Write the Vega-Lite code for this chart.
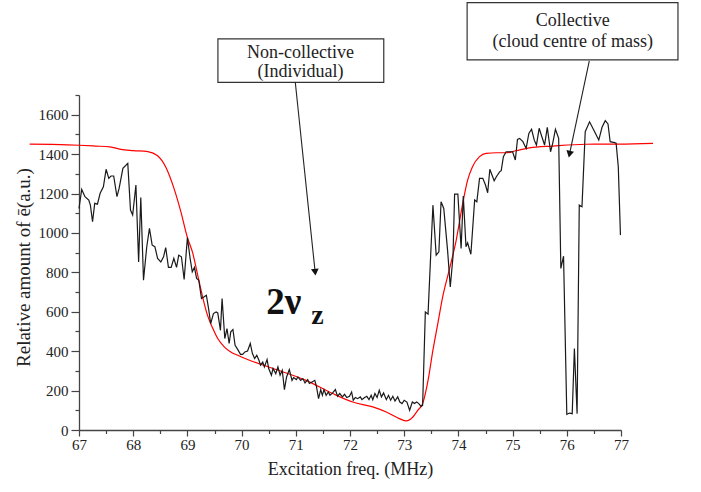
{
  "$schema": "https://vega.github.io/schema/vega-lite/v6.json",
  "width": 542,
  "height": 335,
  "autosize": "none",
  "padding": {"left": 79, "top": 95, "right": 80, "bottom": 62},
  "background": "white",
  "config": {
    "view": {"stroke": null},
    "font": "Liberation Serif",
    "axis": {
      "grid": false,
      "labelFlush": false,
      "domainColor": "#444444",
      "domainWidth": 1.3,
      "tickColor": "#444444",
      "tickWidth": 1.2,
      "labelColor": "#222222",
      "labelFont": "Liberation Serif",
      "labelFontSize": 15,
      "titleFont": "Liberation Serif",
      "titleFontSize": 18,
      "titleFontWeight": "normal",
      "titleColor": "#222222"
    }
  },
  "datasets": {
    "exp": [
      {"f": 67.00, "v": 1124}, {"f": 67.05, "v": 1221}, {"f": 67.11, "v": 1184}, {"f": 67.18, "v": 1167},
      {"f": 67.21, "v": 1141}, {"f": 67.25, "v": 1057}, {"f": 67.29, "v": 1150}, {"f": 67.34, "v": 1146},
      {"f": 67.39, "v": 1201}, {"f": 67.45, "v": 1234}, {"f": 67.50, "v": 1323}, {"f": 67.55, "v": 1277},
      {"f": 67.59, "v": 1289}, {"f": 67.64, "v": 1289}, {"f": 67.70, "v": 1184}, {"f": 67.74, "v": 1226},
      {"f": 67.81, "v": 1328}, {"f": 67.90, "v": 1353}, {"f": 67.95, "v": 1116}, {"f": 67.99, "v": 1091},
      {"f": 68.05, "v": 1243}, {"f": 68.10, "v": 853}, {"f": 68.14, "v": 1180}, {"f": 68.19, "v": 760},
      {"f": 68.25, "v": 930}, {"f": 68.30, "v": 1023}, {"f": 68.35, "v": 938}, {"f": 68.40, "v": 930},
      {"f": 68.45, "v": 871}, {"f": 68.51, "v": 853}, {"f": 68.56, "v": 879}, {"f": 68.60, "v": 926},
      {"f": 68.65, "v": 825}, {"f": 68.70, "v": 825}, {"f": 68.75, "v": 871}, {"f": 68.80, "v": 825},
      {"f": 68.84, "v": 887}, {"f": 68.89, "v": 879}, {"f": 68.94, "v": 764}, {"f": 69.00, "v": 977},
      {"f": 69.05, "v": 871}, {"f": 69.09, "v": 803}, {"f": 69.13, "v": 825}, {"f": 69.17, "v": 769},
      {"f": 69.21, "v": 760}, {"f": 69.26, "v": 667}, {"f": 69.31, "v": 676}, {"f": 69.35, "v": 684},
      {"f": 69.39, "v": 617}, {"f": 69.43, "v": 540}, {"f": 69.48, "v": 591}, {"f": 69.53, "v": 599},
      {"f": 69.56, "v": 594}, {"f": 69.61, "v": 506}, {"f": 69.64, "v": 667}, {"f": 69.69, "v": 464},
      {"f": 69.73, "v": 515}, {"f": 69.77, "v": 439}, {"f": 69.80, "v": 498}, {"f": 69.84, "v": 510},
      {"f": 69.88, "v": 430}, {"f": 69.93, "v": 408}, {"f": 69.98, "v": 384}, {"f": 70.02, "v": 384},
      {"f": 70.06, "v": 396}, {"f": 70.11, "v": 401}, {"f": 70.16, "v": 439}, {"f": 70.20, "v": 388},
      {"f": 70.24, "v": 363}, {"f": 70.28, "v": 379}, {"f": 70.32, "v": 354}, {"f": 70.35, "v": 329},
      {"f": 70.39, "v": 345}, {"f": 70.42, "v": 320}, {"f": 70.47, "v": 358}, {"f": 70.50, "v": 312},
      {"f": 70.55, "v": 278}, {"f": 70.58, "v": 312}, {"f": 70.63, "v": 286}, {"f": 70.67, "v": 320},
      {"f": 70.71, "v": 278}, {"f": 70.75, "v": 303}, {"f": 70.79, "v": 205}, {"f": 70.83, "v": 269},
      {"f": 70.88, "v": 307}, {"f": 70.93, "v": 252}, {"f": 70.96, "v": 266}, {"f": 71.01, "v": 256},
      {"f": 71.04, "v": 269}, {"f": 71.09, "v": 252}, {"f": 71.13, "v": 261}, {"f": 71.17, "v": 239},
      {"f": 71.22, "v": 256}, {"f": 71.25, "v": 236}, {"f": 71.30, "v": 244}, {"f": 71.35, "v": 252},
      {"f": 71.38, "v": 222}, {"f": 71.42, "v": 159}, {"f": 71.46, "v": 205}, {"f": 71.49, "v": 176},
      {"f": 71.52, "v": 205}, {"f": 71.56, "v": 176}, {"f": 71.60, "v": 193}, {"f": 71.63, "v": 176},
      {"f": 71.68, "v": 188}, {"f": 71.73, "v": 205}, {"f": 71.77, "v": 171}, {"f": 71.81, "v": 185},
      {"f": 71.86, "v": 168}, {"f": 71.90, "v": 181}, {"f": 71.94, "v": 165}, {"f": 71.99, "v": 171},
      {"f": 72.03, "v": 193}, {"f": 72.06, "v": 151}, {"f": 72.10, "v": 165}, {"f": 72.14, "v": 159},
      {"f": 72.19, "v": 168}, {"f": 72.22, "v": 154}, {"f": 72.27, "v": 165}, {"f": 72.31, "v": 171},
      {"f": 72.35, "v": 154}, {"f": 72.39, "v": 176}, {"f": 72.42, "v": 154}, {"f": 72.46, "v": 185},
      {"f": 72.50, "v": 165}, {"f": 72.54, "v": 202}, {"f": 72.58, "v": 168}, {"f": 72.62, "v": 188},
      {"f": 72.67, "v": 154}, {"f": 72.71, "v": 176}, {"f": 72.75, "v": 151}, {"f": 72.79, "v": 171},
      {"f": 72.83, "v": 147}, {"f": 72.88, "v": 168}, {"f": 72.92, "v": 142}, {"f": 72.96, "v": 134},
      {"f": 73.00, "v": 151}, {"f": 73.05, "v": 142}, {"f": 73.10, "v": 100}, {"f": 73.15, "v": 142},
      {"f": 73.19, "v": 134}, {"f": 73.23, "v": 142}, {"f": 73.27, "v": 134}, {"f": 73.31, "v": 120},
      {"f": 73.34, "v": 125}, {"f": 73.39, "v": 599}, {"f": 73.44, "v": 588}, {"f": 73.53, "v": 1141},
      {"f": 73.59, "v": 887}, {"f": 73.64, "v": 904}, {"f": 73.68, "v": 1158}, {"f": 73.73, "v": 1124},
      {"f": 73.80, "v": 913}, {"f": 73.85, "v": 726}, {"f": 73.90, "v": 879}, {"f": 73.93, "v": 1197},
      {"f": 73.99, "v": 1197}, {"f": 74.05, "v": 921}, {"f": 74.09, "v": 1187}, {"f": 74.14, "v": 930},
      {"f": 74.17, "v": 950}, {"f": 74.23, "v": 892}, {"f": 74.30, "v": 1167}, {"f": 74.34, "v": 1158},
      {"f": 74.39, "v": 1277}, {"f": 74.45, "v": 1277}, {"f": 74.50, "v": 1243}, {"f": 74.54, "v": 1204},
      {"f": 74.58, "v": 1323}, {"f": 74.62, "v": 1294}, {"f": 74.66, "v": 1265}, {"f": 74.70, "v": 1285},
      {"f": 74.76, "v": 1310}, {"f": 74.79, "v": 1316}, {"f": 74.83, "v": 1387}, {"f": 74.88, "v": 1412},
      {"f": 74.94, "v": 1412}, {"f": 75.00, "v": 1412}, {"f": 75.05, "v": 1370}, {"f": 75.09, "v": 1475},
      {"f": 75.13, "v": 1480}, {"f": 75.19, "v": 1463}, {"f": 75.25, "v": 1429}, {"f": 75.30, "v": 1505},
      {"f": 75.35, "v": 1526}, {"f": 75.40, "v": 1471}, {"f": 75.44, "v": 1446}, {"f": 75.49, "v": 1531},
      {"f": 75.54, "v": 1488}, {"f": 75.59, "v": 1446}, {"f": 75.64, "v": 1536}, {"f": 75.70, "v": 1412},
      {"f": 75.74, "v": 1455}, {"f": 75.79, "v": 1526}, {"f": 75.85, "v": 1480}, {"f": 75.89, "v": 820},
      {"f": 75.94, "v": 882}, {"f": 76.00, "v": 80}, {"f": 76.05, "v": 86}, {"f": 76.10, "v": 83},
      {"f": 76.14, "v": 413}, {"f": 76.19, "v": 83}, {"f": 76.23, "v": 1141}, {"f": 76.28, "v": 1133},
      {"f": 76.34, "v": 1514}, {"f": 76.42, "v": 1564}, {"f": 76.49, "v": 1526}, {"f": 76.59, "v": 1471},
      {"f": 76.65, "v": 1536}, {"f": 76.71, "v": 1570}, {"f": 76.76, "v": 1553}, {"f": 76.80, "v": 1463},
      {"f": 76.88, "v": 1458}, {"f": 76.91, "v": 1455}, {"f": 76.95, "v": 1336}, {"f": 76.99, "v": 989}
    ],
    "fit": [
      {"f": 66.09, "v": 1451}, {"f": 66.5, "v": 1449}, {"f": 67.0, "v": 1445}, {"f": 67.3, "v": 1441},
      {"f": 67.57, "v": 1437}, {"f": 67.77, "v": 1424}, {"f": 68.0, "v": 1418}, {"f": 68.27, "v": 1413},
      {"f": 68.45, "v": 1392}, {"f": 68.60, "v": 1335}, {"f": 68.76, "v": 1220}, {"f": 68.88, "v": 1107},
      {"f": 69.00, "v": 977}, {"f": 69.10, "v": 896}, {"f": 69.19, "v": 786}, {"f": 69.28, "v": 676},
      {"f": 69.37, "v": 583}, {"f": 69.47, "v": 515}, {"f": 69.56, "v": 464}, {"f": 69.68, "v": 422},
      {"f": 69.80, "v": 396}, {"f": 69.93, "v": 379}, {"f": 70.11, "v": 358}, {"f": 70.58, "v": 312},
      {"f": 71.19, "v": 252}, {"f": 71.68, "v": 185}, {"f": 72.05, "v": 142}, {"f": 72.42, "v": 117},
      {"f": 72.67, "v": 91}, {"f": 72.91, "v": 58}, {"f": 73.04, "v": 46}, {"f": 73.16, "v": 66},
      {"f": 73.25, "v": 100}, {"f": 73.34, "v": 134}, {"f": 73.44, "v": 252}, {"f": 73.53, "v": 405},
      {"f": 73.62, "v": 540}, {"f": 73.71, "v": 676}, {"f": 73.83, "v": 811}, {"f": 73.96, "v": 964},
      {"f": 74.08, "v": 1150}, {"f": 74.17, "v": 1268}, {"f": 74.26, "v": 1336}, {"f": 74.39, "v": 1387},
      {"f": 74.51, "v": 1404}, {"f": 74.70, "v": 1407}, {"f": 74.88, "v": 1407}, {"f": 75.06, "v": 1417},
      {"f": 75.31, "v": 1432}, {"f": 75.74, "v": 1441}, {"f": 76.35, "v": 1450}, {"f": 76.97, "v": 1451},
      {"f": 77.59, "v": 1455}
    ],
    "boxes": [
      {"x1": 69.563, "x2": 72.623, "y1": 1764.5, "y2": 1984.5},
      {"x1": 74.161, "x2": 78.051, "y1": 1877.8, "y2": 2168.8}
    ],
    "boxtext": [
      {"x": 71.087, "y": 1889.5, "t": "Non-collective"},
      {"x": 71.087, "y": 1790, "t": "(Individual)"},
      {"x": 76.111, "y": 2049, "t": "Collective"},
      {"x": 76.111, "y": 1945, "t": "(cloud centre of mass)"}
    ],
    "arrow1": [{"x": 70.990, "y": 1766, "x2": 71.357, "y2": 801}],
    "arrow2": [{"x": 76.415, "y": 1872.7, "x2": 76.050, "y2": 1400}]
  },
  "resolve": {"axis": {"x": "independent", "y": "independent"}},
  "layer": [
    {
      "data": {"name": "fit"},
      "mark": {"type": "line", "color": "#ff0000", "strokeWidth": 1.2, "interpolate": "monotone"},
      "encoding": {
        "x": {
          "field": "f", "type": "quantitative",
          "scale": {"domain": [67, 77], "nice": false, "zero": false},
          "axis": {
            "values": [67, 68, 69, 70, 71, 72, 73, 74, 75, 76, 77],
            "format": "d",
            "title": "Excitation freq. (MHz)",
            "tickSize": 6,
            "labelPadding": 1,
            "titlePadding": 8,
            "orient": "bottom"
          }
        },
        "y": {
          "field": "v", "type": "quantitative",
          "scale": {"domain": [0, 1700], "nice": false},
          "axis": {
            "values": [0, 200, 400, 600, 800, 1000, 1200, 1400, 1600],
            "format": "d",
            "title": "Relative amount of ē(a.u.)",
            "titleFontSize": 19,
            "titleY": 172,
            "tickSize": 8,
            "labelPadding": 3,
            "titlePadding": 5,
            "orient": "left"
          }
        }
      }
    },
    {
      "data": {"name": "exp"},
      "mark": {"type": "line", "color": "#1a1a1a", "strokeWidth": 1.2},
      "encoding": {
        "x": {
          "field": "f", "type": "quantitative",
          "scale": {"domain": [67, 77], "nice": false, "zero": false},
          "axis": {
            "values": [67.5, 68.5, 69.5, 70.5, 71.5, 72.5, 73.5, 74.5, 75.5, 76.5],
            "labels": false, "domain": false, "title": null, "tickSize": 3.5, "orient": "bottom"
          }
        },
        "y": {
          "field": "v", "type": "quantitative",
          "scale": {"domain": [0, 1700], "nice": false},
          "axis": {
            "values": [100, 300, 500, 700, 900, 1100, 1300, 1500, 1700],
            "labels": false, "domain": false, "title": null, "tickSize": 4, "orient": "left"
          }
        }
      }
    },
    {
      "data": {"name": "boxes"},
      "mark": {"type": "rect", "fill": "white", "stroke": "#333333", "strokeWidth": 1.2},
      "encoding": {
        "x": {"field": "x1", "type": "quantitative", "scale": {"domain": [67, 77], "nice": false, "zero": false}, "axis": null},
        "x2": {"field": "x2"},
        "y": {"field": "y1", "type": "quantitative", "scale": {"domain": [0, 1700], "nice": false}, "axis": null},
        "y2": {"field": "y2"}
      }
    },
    {
      "data": {"name": "boxtext"},
      "mark": {"type": "text", "font": "Liberation Serif", "fontSize": 18, "color": "#222222", "align": "center", "baseline": "alphabetic"},
      "encoding": {
        "x": {"field": "x", "type": "quantitative", "scale": {"domain": [67, 77], "nice": false, "zero": false}, "axis": null},
        "y": {"field": "y", "type": "quantitative", "scale": {"domain": [0, 1700], "nice": false}, "axis": null},
        "text": {"field": "t"}
      }
    },
    {
      "data": {"name": "arrow1"},
      "mark": {"type": "rule", "color": "#222222", "strokeWidth": 1.1},
      "encoding": {
        "x": {"field": "x", "type": "quantitative", "scale": {"domain": [67, 77], "nice": false, "zero": false}, "axis": null},
        "y": {"field": "y", "type": "quantitative", "scale": {"domain": [0, 1700], "nice": false}, "axis": null},
        "x2": {"field": "x2"},
        "y2": {"field": "y2"}
      }
    },
    {
      "data": {"name": "arrow1"},
      "mark": {"type": "point", "shape": "triangle-down", "filled": true, "color": "#111111", "size": 60, "opacity": 1, "angle": 354},
      "encoding": {
        "x": {"field": "x2", "type": "quantitative", "scale": {"domain": [67, 77], "nice": false, "zero": false}, "axis": null},
        "y": {"field": "y2", "type": "quantitative", "scale": {"domain": [0, 1700], "nice": false}, "axis": null}
      }
    },
    {
      "data": {"name": "arrow2"},
      "mark": {"type": "rule", "color": "#222222", "strokeWidth": 1.1},
      "encoding": {
        "x": {"field": "x", "type": "quantitative", "scale": {"domain": [67, 77], "nice": false, "zero": false}, "axis": null},
        "y": {"field": "y", "type": "quantitative", "scale": {"domain": [0, 1700], "nice": false}, "axis": null},
        "x2": {"field": "x2"},
        "y2": {"field": "y2"}
      }
    },
    {
      "data": {"name": "arrow2"},
      "mark": {"type": "point", "shape": "triangle-down", "filled": true, "color": "#111111", "size": 60, "opacity": 1, "angle": 12},
      "encoding": {
        "x": {"field": "x2", "type": "quantitative", "scale": {"domain": [67, 77], "nice": false, "zero": false}, "axis": null},
        "y": {"field": "y2", "type": "quantitative", "scale": {"domain": [0, 1700], "nice": false}, "axis": null}
      }
    },
    {
      "data": {"values": [{"x": 70.455, "y": 591, "t": "2ν"}]},
      "mark": {"type": "text", "font": "Liberation Serif", "fontSize": 37, "fontWeight": "bold", "color": "#111111", "align": "left", "baseline": "alphabetic"},
      "encoding": {
        "x": {"field": "x", "type": "quantitative", "scale": {"domain": [67, 77], "nice": false, "zero": false}, "axis": null},
        "y": {"field": "y", "type": "quantitative", "scale": {"domain": [0, 1700], "nice": false}, "axis": null},
        "text": {"field": "t"}
      }
    },
    {
      "data": {"values": [{"x": 71.285, "y": 540, "t": "z"}]},
      "mark": {"type": "text", "font": "Liberation Serif", "fontSize": 28, "fontWeight": "bold", "color": "#111111", "align": "left", "baseline": "alphabetic"},
      "encoding": {
        "x": {"field": "x", "type": "quantitative", "scale": {"domain": [67, 77], "nice": false, "zero": false}, "axis": null},
        "y": {"field": "y", "type": "quantitative", "scale": {"domain": [0, 1700], "nice": false}, "axis": null},
        "text": {"field": "t"}
      }
    }
  ]
}
